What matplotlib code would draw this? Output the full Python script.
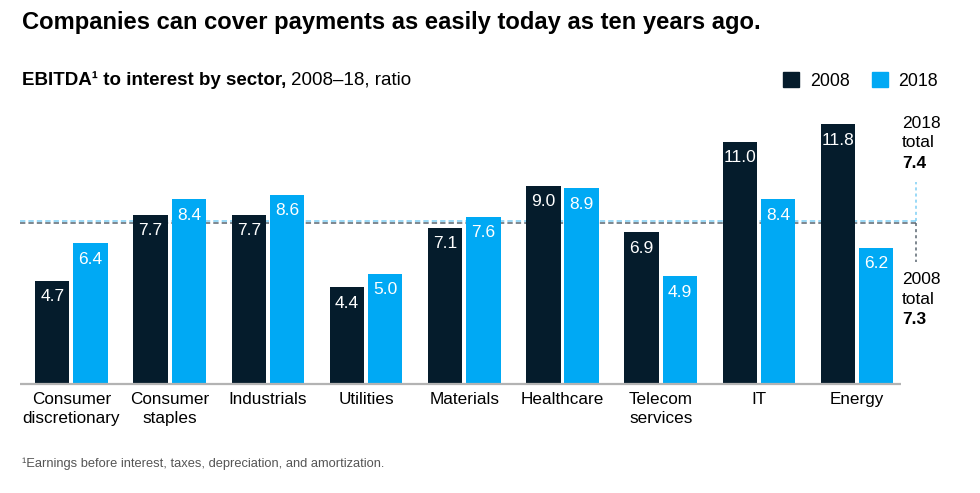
import numpy as np
import matplotlib
matplotlib.use("Agg")
import matplotlib.pyplot as plt
from matplotlib.patches import Patch

plt.rcParams["font.family"] = ["Liberation Sans", "DejaVu Sans"]

# data
sectors = ["Consumer\ndiscretionary", "Consumer\nstaples", "Industrials", "Utilities",
           "Materials", "Healthcare", "Telecom\nservices", "IT", "Energy"]
vals_2008 = [4.7, 7.7, 7.7, 4.4, 7.1, 9.0, 6.9, 11.0, 11.8]
vals_2018 = [6.4, 8.4, 8.6, 5.0, 7.6, 8.9, 4.9, 8.4, 6.2]
total_2008 = 7.3
total_2018 = 7.4

DARK = "#051c2c"
BLUE = "#00a9f4"
W, H = 980, 493

fig = plt.figure(figsize=(W / 100, H / 100), dpi=100)


def fx(px):
    return px / W


def fy(py):
    return 1 - py / H


# axes placed so that the baseline sits at y=384 px
ax = fig.add_axes([fx(20), fy(384), fx(900), (384 - 113) / H])
x = np.arange(len(sectors))
bw = 0.35
off = 0.195

ax.axhline(total_2018, xmin=0, xmax=(916 - 20) / 900, color="#7fd0f5",
           lw=1.1, ls=(0, (3.5, 2)), zorder=1)
ax.axhline(total_2008, xmin=0, xmax=(916 - 20) / 900, color="#5a6670",
           lw=1.1, ls=(0, (3.5, 2)), zorder=1)

b1 = ax.bar(x - off, vals_2008, bw, color=DARK, zorder=2)
b2 = ax.bar(x + off, vals_2018, bw, color=BLUE, zorder=2)

for bars, vals in ((b1, vals_2008), (b2, vals_2018)):
    for r, v in zip(bars, vals):
        ax.annotate(f"{v:.1f}", (r.get_x() + r.get_width() / 2, v),
                    xytext=(0, -6), textcoords="offset points",
                    ha="center", va="top", color="white", fontsize=12.5)

ax.set_xlim(-0.524, 8.64)
ax.set_ylim(0, 12.32)
ax.plot([-0.524, 8.45], [0, 0], color="#b3b3b3", lw=1.6, zorder=3,
        clip_on=False, solid_capstyle="butt")
for s in ax.spines.values():
    s.set_visible(False)
ax.set_yticks([])
ax.set_xticks(x)
ax.set_xticklabels(sectors, fontsize=12.3, linespacing=1.3)
ax.tick_params(axis="x", length=0, pad=6)

# vertical connectors at the right end of the total lines
xv = 8.6
ax.plot([xv, xv], [total_2018, 9.18], color="#7fd0f5", lw=1.1,
        ls=(0, (2, 2)), clip_on=False)
ax.plot([xv, xv], [total_2008, 5.55], color="#5a6670", lw=1.1,
        ls=(0, (2, 2)), clip_on=False)

# total annotations, one line at a time
for py, s, wt in ((123, "2018", "normal"), (143, "total", "normal"),
                  (163, f"{total_2018:.1f}", "bold"),
                  (279, "2008", "normal"), (299, "total", "normal"),
                  (320, f"{total_2008:.1f}", "bold")):
    fig.text(fx(902), fy(py), s, fontsize=12.5, fontweight=wt, va="center")

# titles
fig.text(fx(22), fy(23), "Companies can cover payments as easily today as ten years ago.",
         fontsize=17.1, fontweight="bold", va="center", color="black")
t1 = fig.text(fx(22), fy(80), "EBITDA\u00b9 to interest by sector,", fontsize=13.5,
              fontweight="bold", va="center")
fig.canvas.draw()
bb = t1.get_window_extent()
fig.text(bb.x1 / W + fx(5), fy(80), "2008\u201318, ratio", fontsize=13.5, va="center")

fig.legend(handles=[Patch(color=DARK, label="2008"), Patch(color=BLUE, label="2018")],
           loc="center right", bbox_to_anchor=(fx(945), fy(81)), ncol=2,
           frameon=False, fontsize=12.8, handlelength=0.9, handleheight=0.9,
           handletextpad=0.6, columnspacing=1.25, borderaxespad=0)

fig.text(fx(22), fy(464), "\u00b9Earnings before interest, taxes, depreciation, and amortization.",
         fontsize=9.3, color="#555555", va="center")

fig.savefig("out.png", dpi=100)
